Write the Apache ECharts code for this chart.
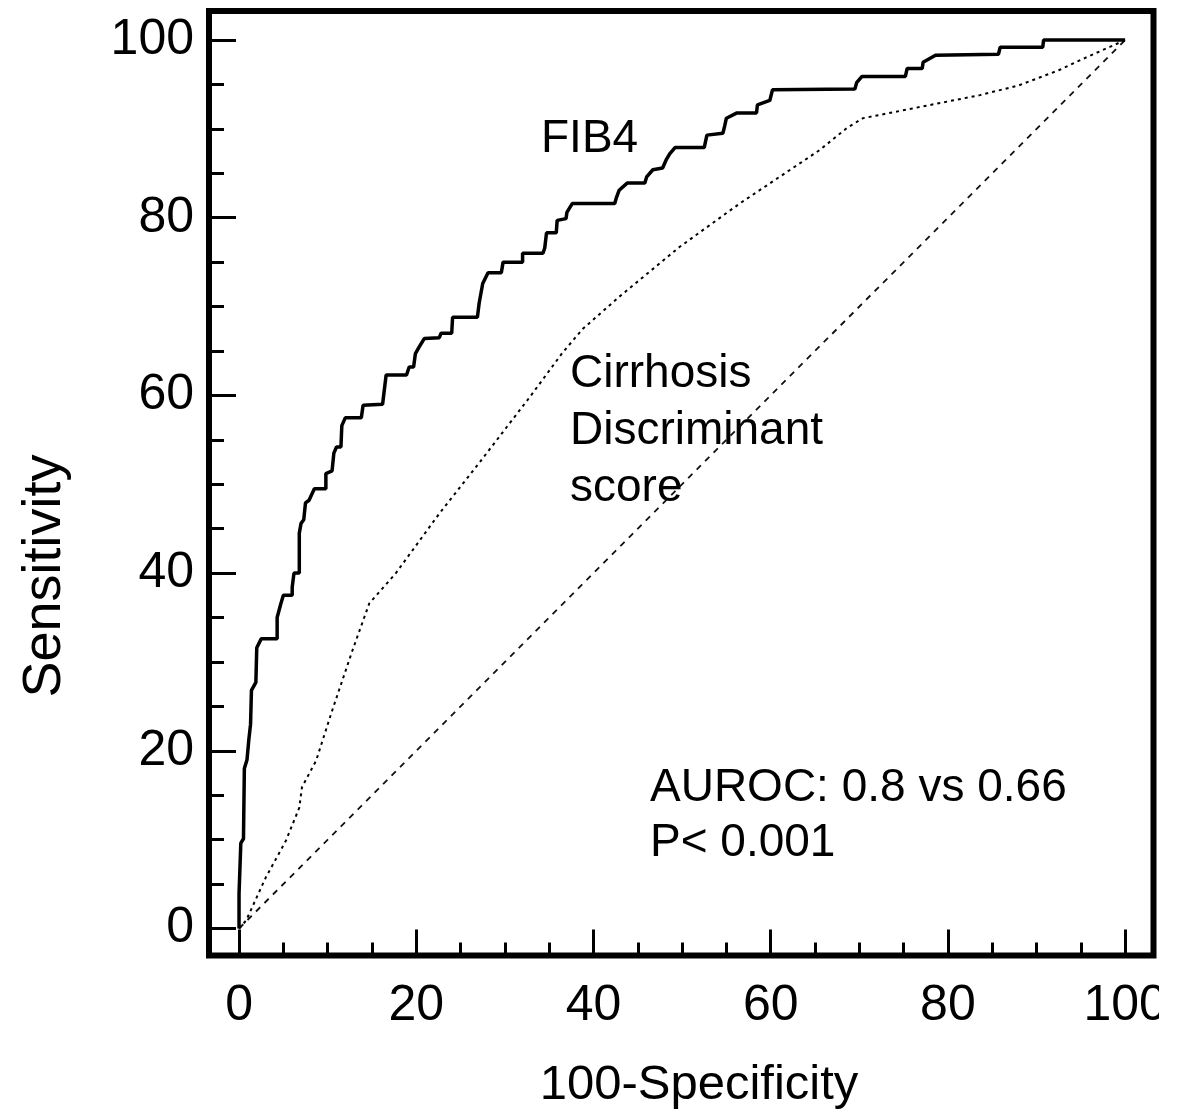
<!DOCTYPE html>
<html>
<head>
<meta charset="utf-8">
<script src="https://cdn.jsdelivr.net/npm/echarts@6/dist/echarts.min.js"></script>
<style>
html,body{margin:0;padding:0;background:#fff;}
#chart{width:1177px;height:1120px;}
</style>
</head>
<body>
<div id="chart"></div>
<script>
// ---- Data ----
const fib4X = [0,0,0.2,0.2,0.5,0.6,0.9,1.1,1.3,1.4,1.9,2.0,2.5,4.3,4.3,4.7,5.0,6.0,6.0,6.2,6.8,6.8,7.0,7.3,7.5,7.9,8.5,9.8,9.8,10.5,10.7,11.0,11.5,11.6,12.0,13.8,14.0,16.2,16.6,18.9,19.2,19.7,19.9,20.3,20.9,22.6,22.8,24.0,24.1,26.9,27.1,27.5,28.1,29.6,29.8,32.0,32.0,34.3,34.5,34.7,35.8,35.9,36.9,37.0,37.6,42.4,42.6,42.9,43.8,45.8,46.0,46.7,47.8,48.2,48.6,49.2,52.5,52.8,54.6,54.8,55.0,56.2,58.4,58.5,59.9,60.2,69.5,69.7,70.3,75.2,75.4,77.1,77.2,78.6,85.7,85.9,90.7,90.8,100];
const fib4Y = [0,3.9,3.9,9.6,10.1,18.0,19.0,21.2,23.0,26.8,27.7,31.6,32.6,32.6,35.0,36.5,37.5,37.5,38.4,40.0,40.0,44.5,45.6,46.0,47.9,48.2,49.5,49.5,51.2,51.5,53.5,54.2,54.2,56.6,57.5,57.5,58.9,59.0,62.3,62.3,63.2,63.2,64.7,65.4,66.4,66.5,67.0,67.0,68.8,68.8,70.4,72.6,73.8,73.8,75.0,75.0,76.0,76.0,76.6,78.3,78.3,79.7,79.9,80.6,81.6,81.6,82.3,83.1,83.9,83.9,84.6,85.4,85.6,86.5,87.2,87.9,87.9,89.3,89.5,90.3,91.2,91.8,91.8,92.7,93.2,94.4,94.5,95.2,95.9,95.9,96.8,96.8,97.5,98.3,98.4,99.2,99.2,100,100];

const cdsX = [0,0.8,3.0,5.3,6.8,7.1,8.7,10.5,12.8,14.7,17.7,22.6,27.1,32.8,36.5,38.8,42.9,49.7,56.5,61.0,65.5,68.6,70.4,76.0,83.6,88.0,92.5,95.5,100];
const cdsY = [0,0.9,5.7,9.9,13.6,15.9,18.9,24.5,31.3,36.6,40.0,46.7,52.4,59.8,64.8,67.5,71.1,76.7,81.6,84.6,87.6,90.1,91.2,92.3,93.8,94.9,96.6,98.0,100];

const diagX = [0,100];
const diagY = [0,100];

const majorTicks = [0,20,40,60,80,100];
const minorTicks = [5,10,15,25,30,35,45,50,55,65,70,75,85,90,95];

const xName = '100-Specificity';
const yName = 'Sensitivity';
const fib4Label = 'FIB4';
const cdsLabel = ['Cirrhosis','Discriminant','score'];
const statLabel = ['AUROC: 0.8 vs 0.66','P< 0.001'];

// ---- Build ----
const pairs = (xs, ys) => xs.map((x, i) => [x, ys[i]]);
const FONT = '"Liberation Sans", Arial, sans-serif';
const XMIN = -3.39, XMAX = 103.2, YMIN = -3.04, YMAX = 103.27;

const chart = echarts.init(document.getElementById('chart'), null, {renderer: 'canvas'});

function xAxisDef(ticks, len, showLabel) {
  return {
    type: 'value', position: 'bottom', min: XMIN, max: XMAX,
    axisLine: {show: false, onZero: false}, splitLine: {show: false},
    axisTick: {show: true, inside: true, length: len, customValues: ticks,
               lineStyle: {color: '#000', width: 3}},
    axisLabel: {show: showLabel, customValues: ticks, margin: 26,
                color: '#000', fontSize: 50, fontFamily: FONT}
  };
}
function yAxisDef(ticks, len, showLabel) {
  return {
    type: 'value', position: 'left', min: YMIN, max: YMAX,
    axisLine: {show: false, onZero: false}, splitLine: {show: false},
    axisTick: {show: true, inside: true, length: len, customValues: ticks,
               lineStyle: {color: '#000', width: 3}},
    axisLabel: {show: showLabel, customValues: ticks, margin: 15,
                color: '#000', fontSize: 50, fontFamily: FONT}
  };
}

const textStyle = (size) => ({fill: '#000', fontSize: size, fontFamily: FONT});

chart.setOption({
  animation: false,
  backgroundColor: '#fff',
  grid: {left: 209, right: 23.5, top: 11, bottom: 164.5, show: true,
         borderColor: '#000', borderWidth: 6, backgroundColor: 'transparent'},
  xAxis: [xAxisDef(majorTicks, 26, true), xAxisDef(minorTicks, 13, false)],
  yAxis: [yAxisDef(majorTicks, 27, true), yAxisDef(minorTicks, 15, false)],
  series: [
    {type: 'line', name: 'Reference', data: pairs(diagX, diagY), showSymbol: false,
     lineStyle: {color: '#111', width: 1.8, type: [6, 6]}, z: 2},
    {type: 'line', name: 'Cirrhosis Discriminant score', data: pairs(cdsX, cdsY), showSymbol: false,
     lineStyle: {color: '#000', width: 2, type: [3, 4]}, z: 3},
    {type: 'line', name: 'FIB4', data: pairs(fib4X, fib4Y), showSymbol: false,
     lineStyle: {color: '#000', width: 3.5}, z: 4}
  ],
  graphic: [
    {type: 'text', left: 541, top: 116, style: Object.assign({text: fib4Label}, textStyle(46))},
    {type: 'text', left: 570, top: 346, style: Object.assign({text: cdsLabel.join('\n'), lineHeight: 57}, textStyle(46))},
    {type: 'text', left: 650, top: 761, style: Object.assign({text: statLabel.join('\n'), lineHeight: 55}, textStyle(46))},
    {type: 'text', x: 699, y: 1085, style: Object.assign({text: xName, align: 'center', verticalAlign: 'middle'}, textStyle(49))},
    {type: 'text', x: 45, y: 576, rotation: Math.PI / 2, style: Object.assign({text: yName, align: 'center', verticalAlign: 'middle'}, textStyle(54))},
    {type: 'rect', shape: {x: 1159, y: 960, width: 18, height: 160}, style: {fill: '#fff'}, z: 100}
  ]
});
</script>
</body>
</html>
